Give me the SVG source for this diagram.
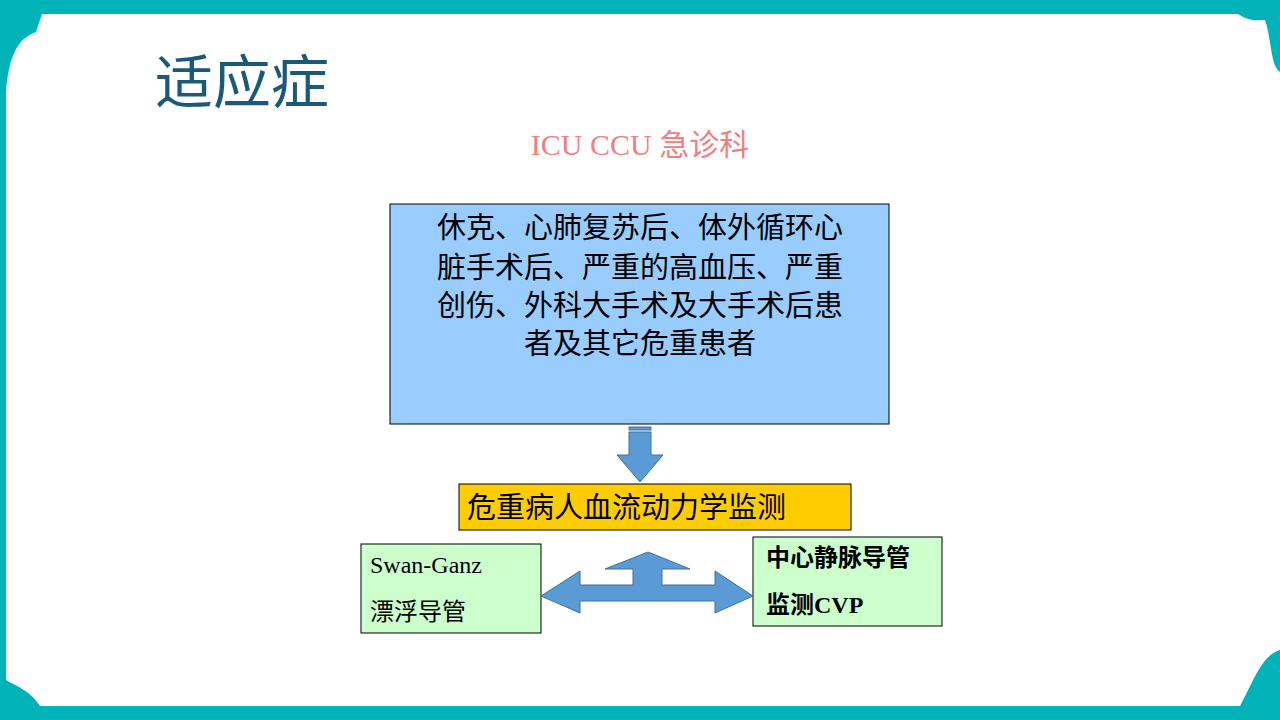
<svg xmlns="http://www.w3.org/2000/svg" width="1280" height="720" viewBox="0 0 1280 720">
<defs><style>
.cjk{font-family:"Liberation Serif","Noto Sans CJK SC",serif}
.box{stroke:#000;stroke-width:1}
.arr{fill:#5B9BD5;stroke:#41719C;stroke-width:1}
</style></defs>
<rect width="1280" height="720" fill="#00B3B9"/>
<path d="M42,14 L1238,14 C1250,22 1258,20 1265,20 C1272,40 1270,65 1280,72 L1280,650 C1262,655 1254,680 1240,706 L40,706 C30,690 14,685 6,680 L6,90 C10,50 20,38 36,32 Z" fill="#fff"/>
<text x="155" y="103" class="cjk" font-size="58" fill="#1A5A78">适应症</text>
<text x="640" y="155" class="cjk" font-size="30" fill="#F08080" text-anchor="middle">ICU CCU 急诊科</text>
<g id="n1"><rect class="box" x="390" y="204" width="499" height="220" fill="#99CCFF"/>
<text class="cjk" font-size="29" text-anchor="middle" fill="#000"><tspan x="640" y="238">休克、心肺复苏后、体外循环心</tspan><tspan x="640" y="278">脏手术后、严重的高血压、严重</tspan><tspan x="640" y="316">创伤、外科大手术及大手术后患</tspan><tspan x="640" y="354">者及其它危重患者</tspan></text></g>
<g id="n2"><rect class="box" x="459" y="484" width="392" height="46" fill="#FFCC00"/>
<text x="467" y="518" class="cjk" font-size="29" fill="#000">危重病人血流动力学监测</text></g>
<g id="n3"><rect class="box" x="361" y="544" width="180" height="89" fill="#CCFFCC"/>
<text class="cjk" font-size="24" fill="#000"><tspan x="370" y="573">Swan-Ganz</tspan><tspan x="370" y="620">漂浮导管</tspan></text></g>
<g id="n4"><rect class="box" x="753" y="537" width="189" height="89" fill="#CCFFCC"/>
<text class="cjk" font-size="24" fill="#000" font-weight="bold"><tspan x="766" y="566">中心静脉导管</tspan><tspan x="766" y="613">监测CVP</tspan></text></g>
<g id="connectors">
<rect class="arr" x="629" y="427" width="22" height="3"/>
<path class="arr" d="M629,432 H651 V455 H663 L640,482 L617,455 H629 Z"/>
<path class="arr" d="M648,552 L690,569 H662 V585 H715 V571 L753,596 L715,613 V601 H580 V613 L541,596 L580,571 V585 H633 V569 H605 Z"/>
</g>
</svg>
